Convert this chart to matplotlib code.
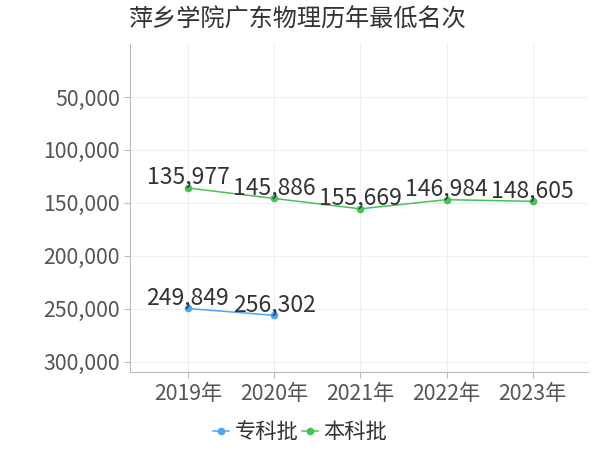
import matplotlib.pyplot as plt
from matplotlib.ticker import FuncFormatter

plt.rcParams['font.family'] = ['Noto Sans CJK SC', 'DejaVu Sans']

years = ['2019年', '2020年', '2021年', '2022年', '2023年']
zhuanke = [249849, 256302]          # 专科批
benke = [135977, 145886, 155669, 146984, 148605]  # 本科批

blue = '#4da6f7'
green = '#45c35a'

fig = plt.figure(figsize=(6, 4.5), dpi=100)
ax = fig.add_axes([0.217, 0.173, 0.763, 0.729])

x_all = list(range(len(years)))
ax.plot(x_all[:len(zhuanke)], zhuanke, color=blue, lw=1.1, marker='o', ms=4.5, label='专科批')
ax.plot(x_all, benke, color=green, lw=1.1, marker='o', ms=4.5, label='本科批')

for xs, vals in [(x_all[:len(zhuanke)], zhuanke), (x_all, benke)]:
    for x, v in zip(xs, vals):
        ax.annotate(f'{v:,}', (x, v), xytext=(0, 3), textcoords='offset points',
                    ha='center', va='baseline', fontsize=16.5, color='#333333')

ax.set_ylim(310000, 0)
ax.set_xlim(-0.67, 4.64)
ax.set_yticks([50000, 100000, 150000, 200000, 250000, 300000])
ax.yaxis.set_major_formatter(FuncFormatter(lambda v, p: f'{int(v):,}'))
ax.set_xticks(x_all)
ax.set_xticklabels(years)

ax.grid(True, color='#f0f0f0', lw=0.8)
ax.set_axisbelow(True)
for s in ['top', 'right']:
    ax.spines[s].set_visible(False)
ax.spines['left'].set_color('#bbbbbb')
ax.spines['bottom'].set_color('#bbbbbb')
ax.tick_params(axis='both', colors='#bbbbbb', labelcolor='#555555', labelsize=15.3, length=4)

fig.text(0.215, 0.957, '萍乡学院广东物理历年最低名次', fontsize=17.4, color='#333333', va='center')

fig.legend(loc='center', bbox_to_anchor=(0.5, 0.04), ncol=2, frameon=False, fontsize=15.3,
           handlelength=0.75, handletextpad=0.25, columnspacing=0.15, labelcolor='#333333')

fig.savefig('out.png', dpi=100)
